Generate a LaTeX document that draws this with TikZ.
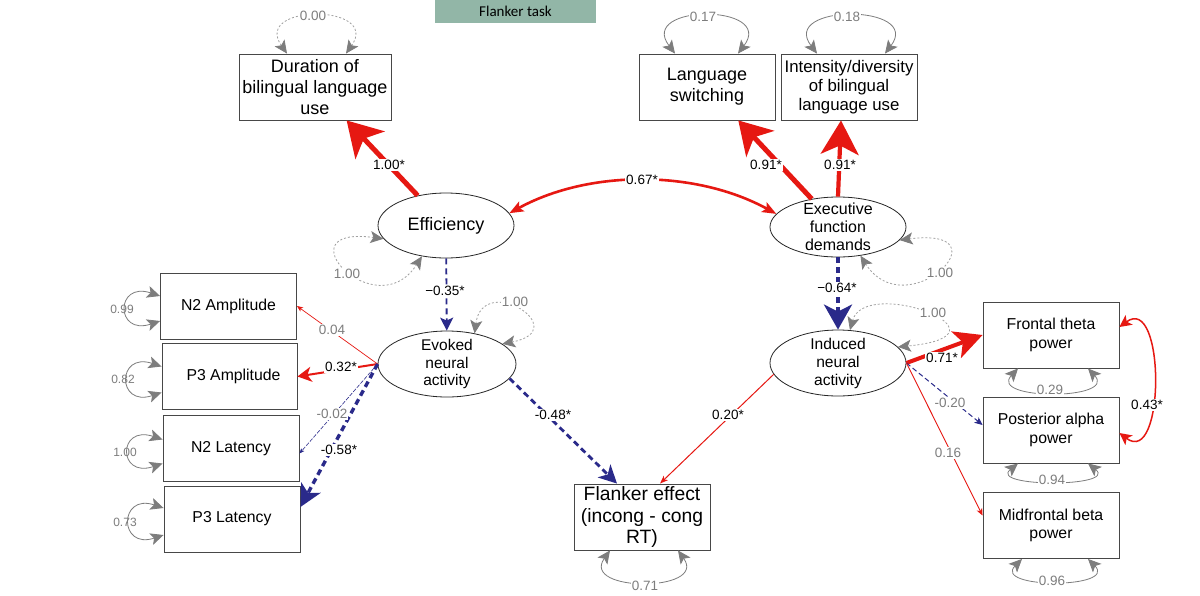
\documentclass[tikz,border=0pt]{standalone}
\usepackage{fontspec}
\setmainfont{Liberation Sans}
\newfontfamily\taskfont{Carlito}
\usetikzlibrary{arrows.meta,shapes.geometric,calc}
\definecolor{pred}{RGB}{230,24,18}
\definecolor{nblue}{RGB}{42,42,138}
\definecolor{vgray}{RGB}{125,125,125}
\definecolor{lgray}{RGB}{160,160,160}
\definecolor{taskbg}{RGB}{146,182,167}
\begin{document}
\begin{tikzpicture}[x=1pt,y=-1pt,
  obs/.style={draw=black!72, line width=0.9pt, minimum width=136pt, minimum height=66pt,
    inner sep=0pt, align=center, font=\fontsize{15.8}{18.3}\selectfont},
  lat/.style={draw=black!85, line width=0.8pt, ellipse, inner sep=0pt,
    minimum width=136pt, minimum height=65pt},
  lbl/.style={fill=white, inner sep=1pt, font=\fontsize{13.5}{14}\selectfont},
  glbl/.style={lbl, text=vgray},
  slbl/.style={lbl, text=vgray, font=\fontsize{12}{13}\selectfont, fill=none},
  vtip/.style={{Stealth[length=13pt,width=12pt,inset=3pt]}-{Stealth[length=13pt,width=12pt,inset=3pt]}},
  vloop/.style={draw=vgray, line width=0.8pt, vtip},
  vloopd/.style={draw=lgray, line width=0.8pt, dash pattern=on 2pt off 2pt, color=lgray,
    {Stealth[length=13pt,width=12pt,inset=3pt,color=vgray]}-{Stealth[length=13pt,width=12pt,inset=3pt,color=vgray]}},
  posline/.style={draw=pred, color=pred},
  negline/.style={draw=nblue, color=nblue, dash pattern=on 6pt off 4pt},
]
\fill[white] (0,0) rectangle (1200,595);
\useasboundingbox (0,0) rectangle (1200,595);

% ---------- nodes ----------
\node[fill=taskbg, minimum width=161pt, minimum height=23pt, inner sep=0pt,
  font=\taskfont\fontsize{15}{16}\selectfont] (task) at (515.5,11.5) {Flanker task};

\node[obs, minimum width=152pt, font=\fontsize{18}{21}\selectfont] (dur) at (315,87) {Duration of\\bilingual language\\use};
\node[obs, font=\fontsize{18}{21}\selectfont] (lang) at (707,87) {Language\\switching};
\node[obs, font=\fontsize{16.8}{19}\selectfont] (int) at (849,87) {Intensity/diversity\\of bilingual\\language use};

\node[lat, label={[font=\fontsize{18}{21}\selectfont]center:Efficiency}] (eff) at (446,225.5) {};
\node[lat, minimum height=60pt, label={[align=center,font=\fontsize{16}{18}\selectfont]center:Executive\\function\\demands}] (exe) at (838,227) {};
\node[lat, minimum width=138pt, minimum height=66pt, label={[align=center,font=\fontsize{15.5}{17.3}\selectfont]center:Evoked\\neural\\activity}] (evk) at (447,364) {};
\node[lat, minimum height=66pt, label={[align=center,font=\fontsize{15.6}{18}\selectfont]center:Induced\\neural\\activity}] (ind) at (838,363) {};

\node[obs] (n2a) at (228.5,306) {N2 Amplitude};
\node[obs, minimum width=135pt] (p3a) at (229.5,376.5) {\hspace{8pt}P3 Amplitude};
\node[obs] (n2l) at (231,448.5) {N2 Latency};
\node[obs] (p3l) at (232,519) {P3 Latency};

\node[obs, font=\fontsize{19.3}{21.3}\selectfont] (fl) at (642,517) {Flanker effect\\(incong - cong\\RT)};

\node[obs] (fr) at (1051,335) {Frontal theta\\power};
\node[obs] (pa) at (1051,430) {Posterior alpha\\power};
\node[obs] (mb) at (1051,525.5) {Midfrontal beta\\power};

% ---------- variance loops ----------
\draw[vloopd] ([xshift=-28pt]dur.north) .. controls +(-35,-50) and +(35,-50) .. ([xshift=31pt]dur.north);
\draw[vloop] ([xshift=-32pt]lang.north) .. controls +(-38,-50) and +(38,-50) .. ([xshift=31pt]lang.north);
\draw[vloop] ([xshift=-32pt]int.north) .. controls +(-38,-50) and +(38,-50) .. ([xshift=36pt]int.north);

\draw[vloopd] (eff.192) .. controls +(-104,-14) and +(-46,72) .. (eff.232);
\draw[vloopd] (exe.348) .. controls +(110,-14) and +(46,72) .. (exe.308);
\draw[vloopd] (evk.48) .. controls +(8,-62) and +(73,-14) .. (evk.20);
\draw[vloopd] (ind.70) .. controls +(15,-55) and +(125,-12) .. (ind.15);

\draw[vloop] ([yshift=10pt]n2a.west) .. controls +(-45,-15) and +(-45,15) .. ([yshift=-15pt]n2a.west);
\draw[vloop] ([yshift=10pt]p3a.west) .. controls +(-45,-15) and +(-45,15) .. ([yshift=-16pt]p3a.west);
\draw[vloop] ([yshift=9pt]n2l.west) .. controls +(-45,-15) and +(-45,15) .. ([yshift=-15pt]n2l.west);
\draw[vloop] ([yshift=11pt]p3l.west) .. controls +(-45,-15) and +(-45,15) .. ([yshift=-16pt]p3l.west);

\draw[vloop] ([xshift=-33pt]fr.south) .. controls +(-30,32) and +(30,32) .. ([xshift=37pt]fr.south);
\draw[vloop] ([xshift=-33pt]pa.south) .. controls +(-30,24) and +(30,24) .. ([xshift=37pt]pa.south);
\draw[vloop] ([xshift=-29pt]mb.south) .. controls +(-30,30) and +(30,30) .. ([xshift=37pt]mb.south);
\draw[vloop] ([xshift=-32pt]fl.south) .. controls +(-30,42) and +(30,42) .. ([xshift=36pt]fl.south);

% ---------- paths ----------
\draw[posline, line width=5pt, -{Stealth[length=34pt,width=40pt,inset=9pt]}] (eff) -- (dur);
\draw[posline, line width=5pt, -{Stealth[length=32pt,width=38pt,inset=9pt]}] (exe) -- (lang);
\draw[posline, line width=4.2pt, -{Stealth[length=34pt,width=38pt,inset=9pt]}] (exe.north) -- ([xshift=-8pt]int.south);
\draw[posline, line width=2.6pt, {Stealth[length=14pt,width=11pt,inset=3pt]}-{Stealth[length=14pt,width=11pt,inset=3pt]}]
  (eff.11) .. controls +(80,-44) and +(-80,-44) .. (exe.168);

\draw[negline, line width=1.8pt, -{Stealth[length=13pt,width=13pt,inset=3pt]}] (eff) -- (evk);
\draw[negline, line width=3.8pt, -{Stealth[length=25pt,width=28pt,inset=7pt]}] (exe) -- (ind);

\draw[posline, line width=0.7pt, -{Stealth[length=6pt,width=5pt,inset=1.5pt]}] (evk.west) -- (n2a.east);
\draw[posline, line width=2pt, -{Stealth[length=14pt,width=15pt,inset=4pt]}] (evk.west) -- (p3a.east);
\draw[negline, line width=0.6pt, dash pattern=on 4pt off 1.5pt, -{Stealth[length=5pt,width=4pt,inset=1pt]}] (evk.west) -- ([yshift=-5pt]n2l.east);
\draw[negline, line width=3.4pt, -{Stealth[length=22pt,width=22pt,inset=6pt]}] (evk.west) -- ([yshift=12pt]p3l.east);
\draw[negline, line width=2.8pt, -{Stealth[length=18pt,width=18pt,inset=5pt]}] (evk.-13) -- ([xshift=-25pt]fl.north);

\draw[posline, line width=1pt, -{Stealth[length=8pt,width=6pt,inset=2pt]}] (ind.190) -- ([xshift=18pt]fl.north);
\draw[posline, line width=4pt, -{Stealth[length=28pt,width=28pt,inset=7pt]}] (ind.east) -- (fr.west);
\draw[negline, line width=1pt, dash pattern=on 5pt off 3pt, -{Stealth[length=8pt,width=7pt,inset=2pt]}] (ind.east) -- ([yshift=5pt]pa.west);
\draw[posline, line width=0.9pt, -{Stealth[length=7pt,width=6pt,inset=2pt]}] (ind.east) -- ([yshift=10pt]mb.west);
\draw[posline, line width=1.5pt, {Stealth[length=12pt,width=12pt,inset=3pt]}-{Stealth[length=12pt,width=12pt,inset=3pt]}]
  ([yshift=8pt]fr.east) .. controls +(46,-34) and +(46,35) .. ([yshift=-3pt]pa.east);

% ---------- labels ----------
\node[glbl] (v-dur) at (313,16) {0.00};
\node[glbl] (v-lang) at (703,17) {0.17};
\node[glbl] (v-int) at (847,17) {0.18};
\node[glbl] (v-eff) at (347,274) {1.00};
\node[glbl] (v-exe) at (940,273) {1.00};
\node[glbl] (v-evk) at (515,302) {1.00};
\node[glbl] (v-ind) at (933,313) {1.00};
\node[slbl] (v-n2a) at (122,309) {0.99};
\node[slbl] (v-p3a) at (123,379) {0.82};
\node[slbl] (v-n2l) at (125,452) {1.00};
\node[slbl] (v-p3l) at (125,522) {0.73};
\node[glbl] (v-fr) at (1050,390) {0.29};
\node[glbl] (v-pa) at (1052,480) {0.94};
\node[glbl] (v-mb) at (1052,581) {0.96};
\node[glbl] (v-fl) at (645,586) {0.71};

\node[lbl] (e1) at (389,165) {1.00*};
\node[lbl] (e2) at (642,180) {0.67*};
\node[lbl] (e3) at (766,165) {0.91*};
\node[lbl] (e4) at (840,165) {0.91*};
\node[lbl] (e5) at (445,291) {−0.35*};
\node[lbl] (e6) at (837,288) {−0.64*};
\node[glbl] (e7) at (332,330) {0.04};
\node[lbl] (e8) at (341,367) {0.32*};
\node[glbl] (e9) at (332,414) {-0.02};
\node[lbl] (e10) at (339,450) {-0.58*};
\node[lbl] (e11) at (553,415) {-0.48*};
\node[lbl] (e12) at (728,415) {0.20*};
\node[lbl] (e13) at (942,358) {0.71*};
\node[glbl] (e14) at (950,403) {-0.20};
\node[glbl] (e15) at (948,453) {0.16};
\node[lbl] (e16) at (1147,405) {0.43*};
\end{tikzpicture}
\end{document}
